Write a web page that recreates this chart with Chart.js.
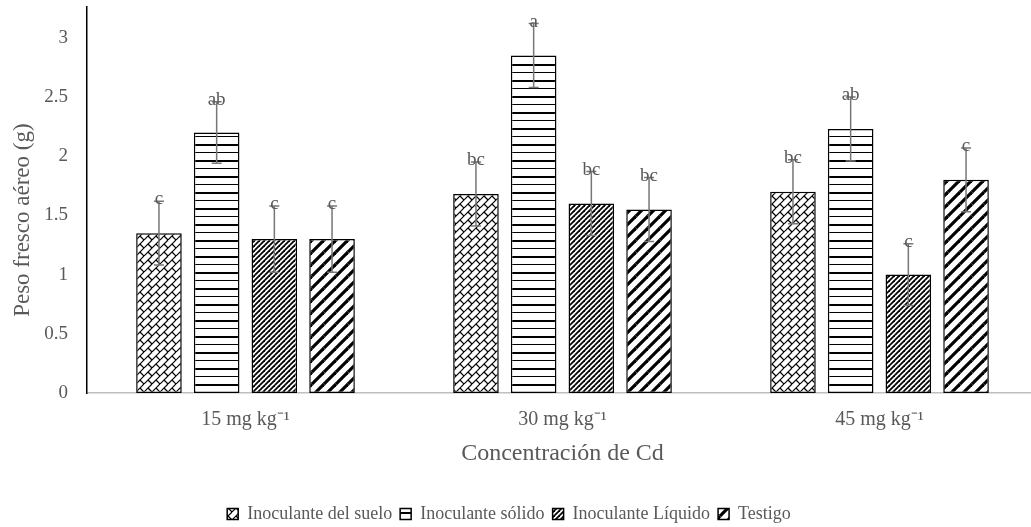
<!DOCTYPE html>
<html>
<head>
<meta charset="utf-8">
<script src="https://cdn.jsdelivr.net/npm/chart.js@4.4.1/dist/chart.umd.min.js"></script>
<style>
  html, body { margin: 0; padding: 0; background: #fff; overflow: hidden; }
  #wrap { width: 1045px; height: 527px; }
</style>
</head>
<body>
<div id="wrap"><canvas id="c" width="1045" height="527"></canvas></div>
<script>
const categories = ['15 mg kg\u207B\u00B9', '30 mg kg\u207B\u00B9', '45 mg kg\u207B\u00B9'];
const seriesNames = ['Inoculante del suelo', 'Inoculante sólido', 'Inoculante Líquido', 'Testigo'];
const sueloValues   = [1.35, 1.68, 1.70];
const solidoValues  = [2.20, 2.85, 2.23];
const liquidoValues = [1.30, 1.60, 1.00];
const testigoValues = [1.30, 1.55, 1.80];
const sueloErr   = [0.27, 0.27, 0.27];
const solidoErr  = [0.26, 0.27, 0.27];
const liquidoErr = [0.28, 0.27, 0.26];
const testigoErr = [0.28, 0.27, 0.27];
const sueloLetters   = ['c', 'bc', 'bc'];
const solidoLetters  = ['ab', 'a', 'ab'];
const liquidoLetters = ['c', 'bc', 'c'];
const testigoLetters = ['c', 'bc', 'c'];
const yTickLabels = ['0', '0.5', '1', '1.5', '2', '2.5', '3'];

const FONT = '"Liberation Serif", "Times New Roman", serif';
const TXT = '#595959';

function tile(w, h, drawFn) {
  const c = document.createElement('canvas');
  c.width = w; c.height = h;
  const g = c.getContext('2d');
  g.fillStyle = '#fff';
  g.fillRect(0, 0, w, h);
  g.strokeStyle = '#000';
  drawFn(g, w, h);
  return document.createElement('canvas').getContext('2d').createPattern(c, 'repeat');
}
function seg(g, x1, y1, x2, y2, w, h) {
  for (let dx = -w; dx <= w; dx += w) for (let dy = -h; dy <= h; dy += h) {
    g.beginPath(); g.moveTo(x1 + dx, y1 + dy); g.lineTo(x2 + dx, y2 + dy); g.stroke();
  }
}
const patSuelo = tile(16, 16, (g, w, h) => {
  g.lineWidth = 1.2;
  for (let k = -16; k <= 48; k += 8) { g.beginPath(); g.moveTo(k, 0); g.lineTo(k - 16, 16); g.stroke(); }
  seg(g, 4, 4, 8, 8, w, h);
  seg(g, 12, 4, 16, 8, w, h);
  seg(g, 4, 12, 8, 16, w, h);
  seg(g, 12, 12, 16, 16, w, h);
});
const patSolido = tile(4, 16, (g) => {
  g.fillStyle = '#000';
  g.fillRect(0, 0, 4, 2);
  g.fillRect(0, 8, 4, 1);
});
const patLiquido = tile(5, 5, (g, w, h) => {
  g.lineWidth = 1.8;
  seg(g, 0, 5, 5, 0, w, h);
});
const patTestigo = tile(12, 12, (g, w, h) => {
  g.lineWidth = 3.2;
  seg(g, 0, 12, 12, 0, w, h);
});

const allValues = [sueloValues, solidoValues, liquidoValues, testigoValues];
const allErr = [sueloErr, solidoErr, liquidoErr, testigoErr];
const allLetters = [sueloLetters, solidoLetters, liquidoLetters, testigoLetters];
const patterns = [patSuelo, patSolido, patLiquido, patTestigo];

const errorPlugin = {
  id: 'errbars',
  afterDatasetsDraw(chart) {
    const ctx = chart.ctx;
    const ys = chart.scales.y;
    ctx.save();
    chart.data.datasets.forEach((ds, i) => {
      const meta = chart.getDatasetMeta(i);
      meta.data.forEach((bar, j) => {
        const v = allValues[i][j], e = allErr[i][j];
        const x = bar.x;
        const yTop = ys.getPixelForValue(v + e);
        const yBot = ys.getPixelForValue(v - e);
        ctx.strokeStyle = '#777';
        ctx.lineWidth = 1.5;
        ctx.beginPath();
        ctx.moveTo(x, yTop); ctx.lineTo(x, yBot);
        ctx.moveTo(x - 5, yTop); ctx.lineTo(x + 5, yTop);
        ctx.moveTo(x - 5, yBot); ctx.lineTo(x + 5, yBot);
        ctx.stroke();
        ctx.fillStyle = TXT;
        ctx.font = '19px ' + FONT;
        ctx.textAlign = 'center';
        ctx.textBaseline = 'alphabetic';
        ctx.fillText(allLetters[i][j], x, yTop + 3);
      });
    });
    ctx.restore();
  }
};

new Chart(document.getElementById('c'), {
  type: 'bar',
  data: {
    labels: categories,
    datasets: seriesNames.map((name, i) => ({
      label: name,
      data: allValues[i],
      backgroundColor: patterns[i],
      borderColor: '#000',
      borderWidth: 1.5,
      borderSkipped: false,
      categoryPercentage: 0.728,
      barPercentage: 0.79
    }))
  },
  options: {
    responsive: false,
    animation: false,
    devicePixelRatio: 1,
    layout: { padding: { top: 7, right: 7, left: -20, bottom: -6 } },
    plugins: {
      legend: {
        position: 'bottom',
        labels: {
          boxWidth: 11, boxHeight: 11, padding: 8,
          color: TXT,
          font: { family: FONT, size: 18 }
        }
      },
      tooltip: { enabled: false }
    },
    scales: {
      x: {
        grid: { display: false, drawTicks: false },
        border: { display: true, color: '#bfbfbf', width: 1.5 },
        ticks: { color: TXT, font: { family: FONT, size: 20 }, padding: 15 },
        title: { display: true, text: 'Concentración de Cd', color: TXT, font: { family: FONT, size: 24 }, padding: { top: 0, bottom: 29 } },
        afterFit(s) { s.height = 104; s.paddingLeft = 0; s.paddingRight = 0; s.paddingTop = 0; s.paddingBottom = 0; }
      },
      y: {
        min: 0, max: 3.26,
        grid: { display: false, drawTicks: false },
        border: { display: true, color: '#000', width: 1.5 },
        ticks: {
          stepSize: 0.5, padding: 19, color: TXT, font: { family: FONT, size: 19 },
          callback: (v) => { const k = Math.round(v * 2); return Math.abs(v * 2 - k) < 1e-6 ? yTickLabels[k] : null; }
        },
        title: { display: true, text: 'Peso fresco aéreo (g)       ', color: TXT, font: { family: FONT, size: 23 }, padding: { top: 29, bottom: 0 } },
        afterFit(s) { s.width = 107; s.paddingLeft = 0; s.paddingRight = 0; s.paddingTop = 0; s.paddingBottom = 0; }
      }
    }
  },
  plugins: [errorPlugin]
});
</script>
</body>
</html>
